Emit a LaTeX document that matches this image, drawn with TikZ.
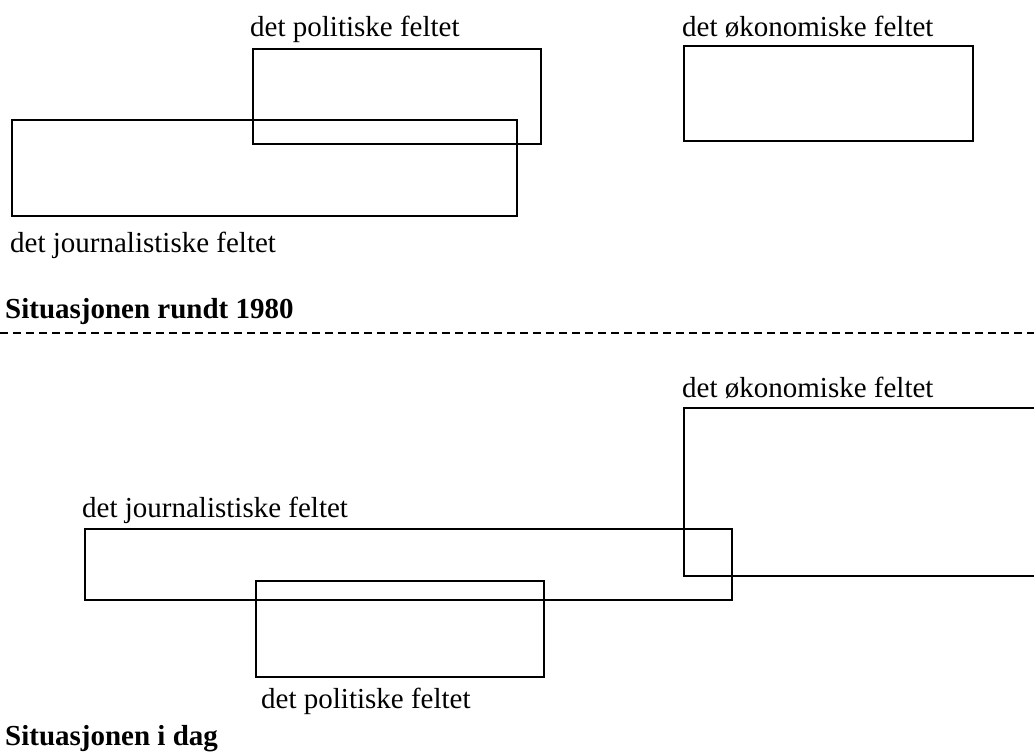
\documentclass[tikz,border=0pt]{standalone}
\usepackage{fontspec}
\setmainfont{Liberation Serif}
\tikzset{
  felt/.style={line width=1.8pt},
  lbl/.style={anchor=base west,inner sep=0pt,font=\fontsize{29}{34}\selectfont},
  tittel/.style={lbl,font=\fontsize{29}{34}\selectfont\bfseries}
}
\begin{document}
\begin{tikzpicture}[x=1pt,y=-1pt]
\useasboundingbox (0,0) rectangle (1034,754);
\clip (0,0) rectangle (1034,754);

% situation around 1980
\draw[felt] (253,49) rectangle (541,144);
\draw[felt] (12,120) rectangle (517,216);
\draw[felt] (684,46) rectangle (973,141);

\draw (250,37) node[lbl] (pol1) {det politiske feltet};
\draw (682,37) node[lbl] (oko1) {det økonomiske feltet};
\draw (10,253) node[lbl] (jour1) {det journalistiske feltet};
\draw (5,318) node[tittel] (sit1) {Situasjonen rundt 1980};

% dashed separator
\draw[line width=1.6pt,dash pattern=on 8pt off 5pt] (0,333) -- (1034,333);

% situation today
\draw[felt] (684,408) rectangle (1050,576);
\draw[felt] (85,529) rectangle (732,600);
\draw[felt] (256,581) rectangle (544,677);

\draw (682,397) node[lbl] (oko2) {det økonomiske feltet};
\draw (82,517) node[lbl] (jour2) {det journalistiske feltet};
\draw (261,708) node[lbl] (pol2) {det politiske feltet};
\draw (5,745) node[tittel] (sit2) {Situasjonen i dag};

\end{tikzpicture}
\end{document}
